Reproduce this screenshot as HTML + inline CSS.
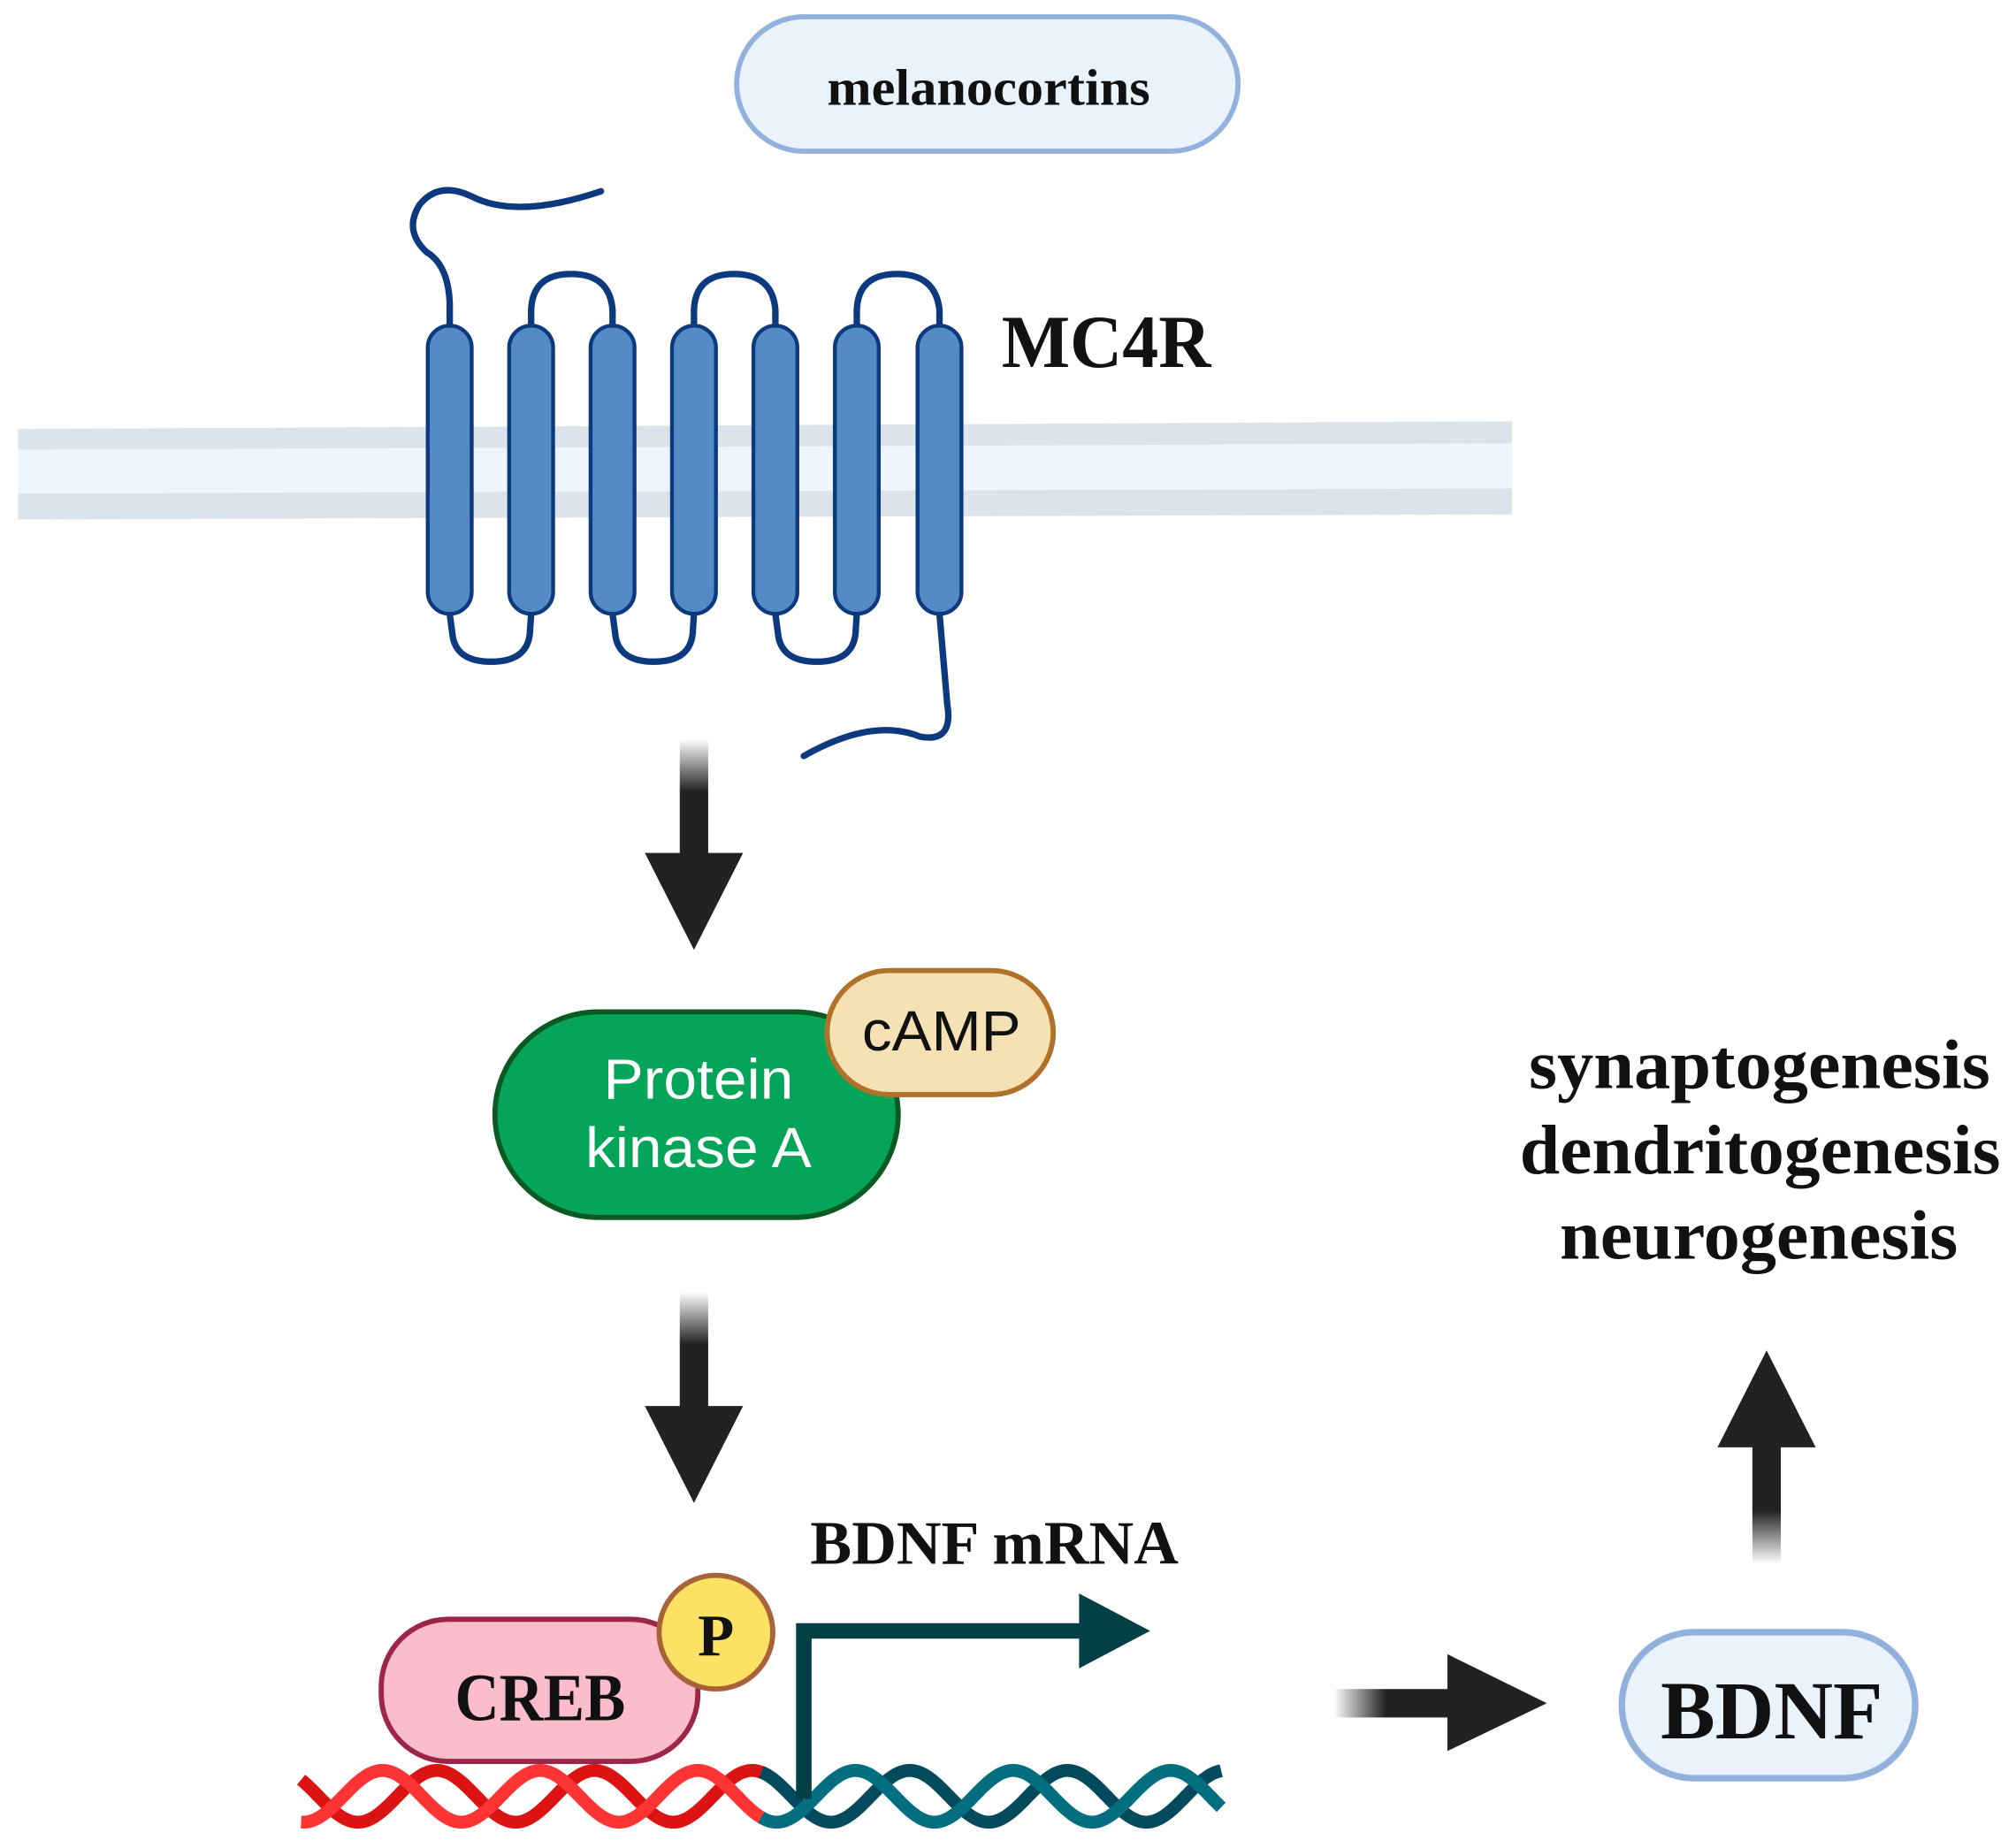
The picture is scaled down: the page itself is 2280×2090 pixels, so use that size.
<!DOCTYPE html>
<html><head><meta charset="utf-8"><style>
html,body{margin:0;padding:0;background:#fff;}
svg{display:block}
.s{font-family:"Liberation Serif",serif;font-weight:bold;fill:#111;}
.a{font-family:"Liberation Sans",sans-serif;}
</style></head><body>
<svg width="2280" height="2090" viewBox="0 0 1560 1430" xmlns="http://www.w3.org/2000/svg">
<defs>
<linearGradient id="gv" x1="0" y1="0" x2="0" y2="1"><stop offset="0" stop-color="#fff"/><stop offset="0.45" stop-color="#222"/><stop offset="1" stop-color="#222"/></linearGradient>
<linearGradient id="gu" x1="0" y1="1" x2="0" y2="0"><stop offset="0" stop-color="#fff"/><stop offset="0.45" stop-color="#222"/><stop offset="1" stop-color="#222"/></linearGradient>
<linearGradient id="gh" x1="0" y1="0" x2="1" y2="0"><stop offset="0" stop-color="#fff"/><stop offset="0.45" stop-color="#222"/><stop offset="1" stop-color="#222"/></linearGradient>
</defs>
<polygon points="14,332 1170,326 1170,398 14,402" fill="#dde3ea"/>
<polygon points="14,348 1170,343 1170,378 14,382" fill="#eef5fc"/>
<rect x="570" y="13" width="388" height="104" rx="52" fill="#eaf2fb" stroke="#92b1dc" stroke-width="4"/>
<text x="640" y="81" class="s" font-size="40" textLength="250" lengthAdjust="spacingAndGlyphs">melanocortins</text>
<g fill="none" stroke="#0d3a7e" stroke-width="5" stroke-linecap="round">
<path d="M348,252 L348,235 Q347,205 330,195 Q312,178 325,158 Q340,140 365,152 Q400,170 465,148"/>
<path d="M411,252 L411,240 Q412,212 442,212 Q472,212 474,240 L474,252"/>
<path d="M537,252 L537,240 Q538,212 568,212 Q598,212 600,240 L600,252"/>
<path d="M663,252 L663,240 Q664,212 694,212 Q724,212 727,240 L727,252"/>
<path d="M348,475 L350,490 Q352,512 380,512 Q408,512 410,490 L411,475"/>
<path d="M474,475 L476,490 Q478,512 506,512 Q534,512 536,490 L537,475"/>
<path d="M600,475 L602,490 Q604,512 632,512 Q660,512 662,490 L663,475"/>
<path d="M727,475 L733,545 Q738,575 712,570 Q675,555 622,585"/>
</g>
<g fill="#548bc6" stroke="#0d3a7e" stroke-width="3">
<rect x="331" y="252" width="34" height="223" rx="17"/>
<rect x="394" y="252" width="34" height="223" rx="17"/>
<rect x="457" y="252" width="34" height="223" rx="17"/>
<rect x="520" y="252" width="34" height="223" rx="17"/>
<rect x="583" y="252" width="34" height="223" rx="17"/>
<rect x="646" y="252" width="34" height="223" rx="17"/>
<rect x="710" y="252" width="34" height="223" rx="17"/>
</g>
<text x="775" y="284" class="s" font-size="58" textLength="162" lengthAdjust="spacingAndGlyphs">MC4R</text>
<rect x="526" y="572" width="22" height="90" fill="url(#gv)"/>
<polygon points="499,660 575,660 537,735" fill="#222"/>
<rect x="526" y="1000" width="22" height="90" fill="url(#gv)"/>
<polygon points="499,1088 575,1088 537,1163" fill="#222"/>
<rect x="1356" y="1118" width="22" height="92" fill="url(#gu)"/>
<polygon points="1329,1120 1405,1120 1367,1045" fill="#222"/>
<rect x="1032" y="1307" width="90" height="22" fill="url(#gh)"/>
<polygon points="1120,1280 1120,1355 1197,1318" fill="#222"/>
<rect x="383" y="783" width="312" height="159" rx="80" fill="#04a559" stroke="#0b5a24" stroke-width="4"/>
<text x="467" y="850" class="a" font-size="44" fill="#fff" textLength="147" lengthAdjust="spacingAndGlyphs">Protein</text>
<text x="453" y="903" class="a" font-size="44" fill="#fff" textLength="175" lengthAdjust="spacingAndGlyphs">kinase A</text>
<rect x="640" y="751" width="175" height="96" rx="48" fill="#f5e1b4" stroke="#b07128" stroke-width="4"/>
<text x="667" y="813" class="a" font-size="44" fill="#111" textLength="123" lengthAdjust="spacingAndGlyphs">cAMP</text>
<text x="1183" y="842" class="s" font-size="54" textLength="357" lengthAdjust="spacingAndGlyphs">synaptogenesis</text>
<text x="1176" y="908" class="s" font-size="54" textLength="372" lengthAdjust="spacingAndGlyphs">dendritogenesis</text>
<text x="1207" y="974" class="s" font-size="54" textLength="308" lengthAdjust="spacingAndGlyphs">neurogenesis</text>
<rect x="1255" y="1263" width="227" height="113" rx="56" fill="#eaf2fb" stroke="#92b1dc" stroke-width="5"/>
<text x="1285" y="1345" class="s" font-size="64" textLength="172" lengthAdjust="spacingAndGlyphs">BDNF</text>
<g id="dna" fill="none" stroke-width="10"></g>
<path d="M622,1392 L622,1262 L840,1262" fill="none" stroke="#034045" stroke-width="12"/>
<polygon points="835,1233 835,1291 890,1262" fill="#034045"/>
<text x="627" y="1210" class="s" font-size="48" textLength="285" lengthAdjust="spacingAndGlyphs">BDNF mRNA</text>
<rect x="295" y="1253" width="245" height="110" rx="52" fill="#fbbccd" stroke="#9c2548" stroke-width="4"/>
<text x="352" y="1331" class="s" font-size="52" textLength="132" lengthAdjust="spacingAndGlyphs">CREB</text>
<circle cx="554" cy="1263" r="44" fill="#fbe164" stroke="#a8633a" stroke-width="4"/>
<text x="554" y="1281" text-anchor="middle" class="s" font-size="46">P</text>
<script>
(function(){
var g=document.getElementById('dna');var ns='http://www.w3.org/2000/svg';
function wave(x0,x1,pk,col){var d='';for(var x=x0;x<=x1;x+=2){var y=1390-20*Math.cos((x-pk)/122*2*Math.PI);d+=(x==x0?'M':'L')+x+','+y.toFixed(1);}var p=document.createElementNS(ns,'path');p.setAttribute('d',d);p.setAttribute('stroke',col);g.appendChild(p);}
wave(233,591,338,'#dc1313');wave(233,591,296,'#ff3434');
wave(589,945,338,'#034a5c');wave(589,945,296,'#026e80');
})();
</script>
</svg>
</body></html>
